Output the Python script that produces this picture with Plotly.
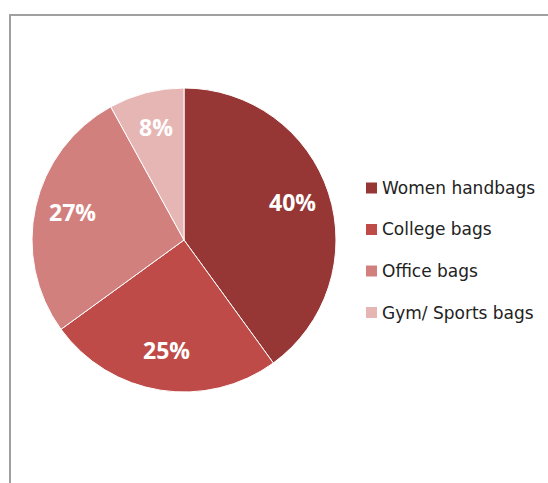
import math
import plotly.graph_objects as go

# Market share of bag categories
categories = ["Women handbags", "College bags", "Office bags", "Gym/ Sports bags"]
shares = [40, 25, 27, 8]
colors = ["#963735", "#BE4B48", "#D2807D", "#E6B6B5"]

W, H = 548, 483
cx, cy, R = 184, 240, 152  # pie centre and radius in pixels
label_r = 0.75 * R         # radius at which percentage labels sit

fig = go.Figure(
    go.Pie(
        labels=categories,
        values=shares,
        sort=False,
        direction="clockwise",
        rotation=0,
        marker=dict(colors=colors, line=dict(color="white", width=1)),
        textinfo="none",
        showlegend=False,
        hoverinfo="label+percent",
        domain=dict(
            x=[(cx - R) / W, (cx + R) / W],
            y=[(H - cy - R) / H, (H - cy + R) / H],
        ),
    )
)

annotations = []

# Percentage labels on each slice's bisector (clockwise from 12 o'clock)
total = sum(shares)
cum = 0
for v in shares:
    theta = 2 * math.pi * (cum + v / 2) / total
    cum += v
    px = cx + label_r * math.sin(theta)
    py = cy - label_r * math.cos(theta) - 3
    annotations.append(
        dict(
            x=px / W, y=(H - py) / H, xref="paper", yref="paper",
            xanchor="center", yanchor="middle", showarrow=False,
            text=f"{v / total * 100:.0f}%",
            font=dict(family="Open Sans", size=23, color="white", weight="bold"),
        )
    )

# Legend drawn as swatches + text, one row per category
legend_x, legend_y0, legend_dy, sw = 366, 188, 41.5, 11
shapes = [
    dict(
        type="rect", xref="paper", yref="paper",
        x0=10 / W, x1=1.02, y0=-0.02, y1=(H - 15) / H,
        line=dict(color="#A0A0A0", width=2), fillcolor="rgba(0,0,0,0)",
        layer="below",
    )
]
for i, (name, col) in enumerate(zip(categories, colors)):
    yc = legend_y0 + i * legend_dy
    shapes.append(
        dict(
            type="rect", xref="paper", yref="paper",
            x0=legend_x / W, x1=(legend_x + sw) / W,
            y0=(H - yc - sw / 2) / H, y1=(H - yc + sw / 2) / H,
            line=dict(width=0), fillcolor=col,
        )
    )
    annotations.append(
        dict(
            x=(legend_x + sw + 3) / W, y=(H - yc) / H,
            xref="paper", yref="paper", xanchor="left", yanchor="middle",
            text=name, showarrow=False,
            font=dict(family="DejaVu Sans", size=17, color="#222222"),
        )
    )

fig.update_layout(
    width=W, height=H,
    margin=dict(l=0, r=0, t=0, b=0),
    paper_bgcolor="white",
    plot_bgcolor="white",
    shapes=shapes,
    annotations=annotations,
)

fig.write_html("out.html")
